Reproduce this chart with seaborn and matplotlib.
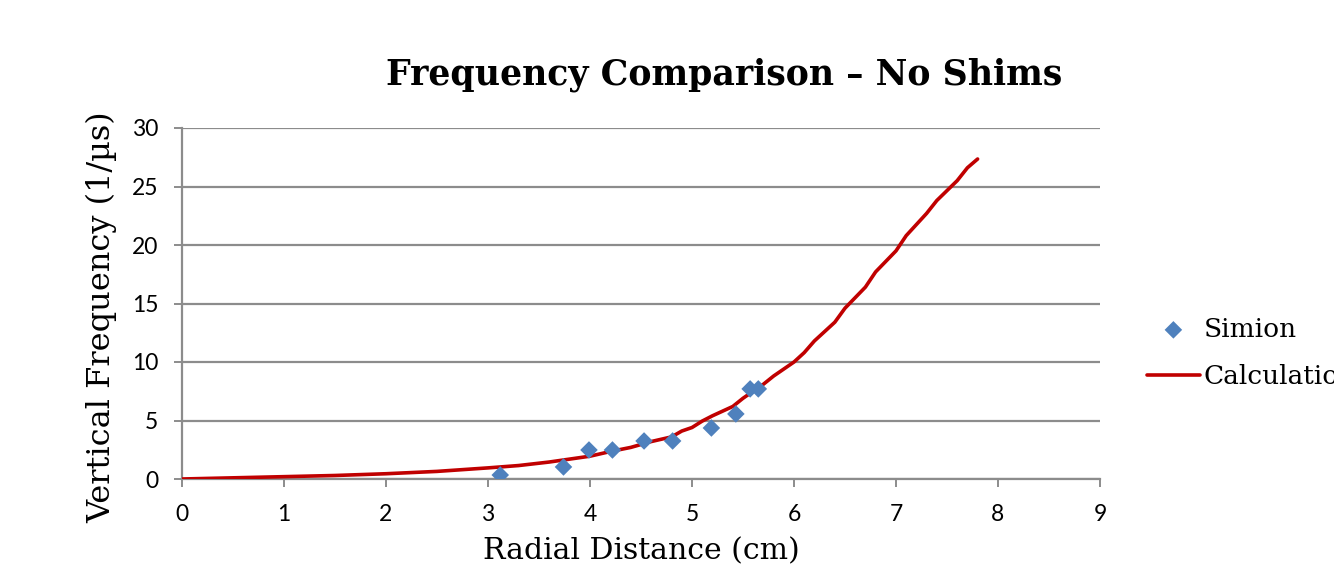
import matplotlib
matplotlib.use("Agg")
import matplotlib.pyplot as plt
import seaborn as sns
import pandas as pd

# Simion data points
simion_x = [3.12, 3.74, 3.99, 4.22, 4.53, 4.81, 5.19, 5.43, 5.57, 5.65]
simion_y = [0.34, 1.03, 2.48, 2.48, 3.25, 3.25, 4.36, 5.56, 7.7, 7.7]

# Calculation curve
calc_x = [0.0, 0.5, 1.0, 1.5, 2.0, 2.5, 3.0, 3.3, 3.6, 3.8, 4.0, 4.2, 4.4, 4.6, 4.8,
          4.9, 5.0, 5.1, 5.2, 5.4, 5.5, 5.6, 5.7, 5.8, 6.0, 6.1, 6.2, 6.4, 6.5, 6.7,
          6.8, 7.0, 7.1, 7.3, 7.4, 7.6, 7.7, 7.8]
calc_y = [0.0, 0.1, 0.2, 0.3, 0.45, 0.65, 0.95, 1.15, 1.45, 1.7, 1.95, 2.35, 2.7, 3.2, 3.6,
          4.1, 4.4, 4.95, 5.4, 6.2, 6.9, 7.5, 8.1, 8.8, 10.0, 10.8, 11.8, 13.4, 14.6, 16.4,
          17.7, 19.5, 20.8, 22.7, 23.8, 25.5, 26.6, 27.35]

x_ticks = [0, 1, 2, 3, 4, 5, 6, 7, 8, 9]
y_ticks = [0, 5, 10, 15, 20, 25, 30]

sns.set_style("white")
plt.rcParams["text.color"] = "black"

fig = plt.figure(figsize=(13.34, 5.73), dpi=100)
ax = fig.add_axes([182/1334, (573-479)/573, (1100-182)/1334, (479-128)/573])

df_s = pd.DataFrame({"x": simion_x, "y": simion_y})
df_c = pd.DataFrame({"x": calc_x, "y": calc_y})

sns.lineplot(data=df_c, x="x", y="y", ax=ax, color="#C00000", linewidth=2.6,
             estimator=None, sort=False, label="Calculation", zorder=3)
sns.scatterplot(data=df_s, x="x", y="y", ax=ax, marker="D", s=80, color="#4F81BD",
                edgecolor="none", label="Simion", zorder=4)

ax.set_xlim(0, 9)
ax.set_ylim(0, 30)
ax.set_xticks(x_ticks)
ax.set_yticks(y_ticks)
ax.yaxis.grid(True, color="#8C8C8C", linewidth=1.6)
ax.set_axisbelow(True)
for s in ["top", "right"]:
    ax.spines[s].set_visible(False)
for s in ["left", "bottom"]:
    ax.spines[s].set_color("#8C8C8C")
    ax.spines[s].set_linewidth(1.6)
ax.tick_params(axis="both", which="major", direction="out", length=6, width=1.4,
               color="#8C8C8C", labelsize=16.5, labelcolor="black",
               bottom=True, left=True)
ax.tick_params(axis="y", pad=11)
ax.tick_params(axis="x", pad=12)
for lab in ax.get_xticklabels() + ax.get_yticklabels():
    lab.set_fontfamily("Lato")

ax.set_xlabel("Radial Distance (cm)", fontfamily="DejaVu Serif", fontsize=21.5,
              labelpad=4, color="black")
ax.xaxis.set_label_coords(0.5, -0.165)
ax.set_ylabel("Vertical Frequency (1/\u00b5s)", fontfamily="DejaVu Serif", fontsize=23,
              labelpad=6, color="black")
ax.yaxis.set_label_coords(-0.07, 0.46)

fig.text(724/1334, 1 - 75/573, "Frequency Comparison \u2013 No Shims", ha="center", va="center",
         fontfamily="DejaVu Serif", fontweight="bold", fontsize=25, color="black")

handles, labels = ax.get_legend_handles_labels()
order = [labels.index("Simion"), labels.index("Calculation")]
ax.legend([handles[i] for i in order], [labels[i] for i in order],
          loc="center left", bbox_to_anchor=(1147/1334, 1 - 353/573),
          bbox_transform=fig.transFigure, frameon=False,
          prop={"family": "DejaVu Serif", "size": 19}, handlelength=2.0,
          handletextpad=0.15, labelspacing=0.85, borderaxespad=0, borderpad=0,
          labelcolor="black")

fig.savefig("out.png", dpi=100)
